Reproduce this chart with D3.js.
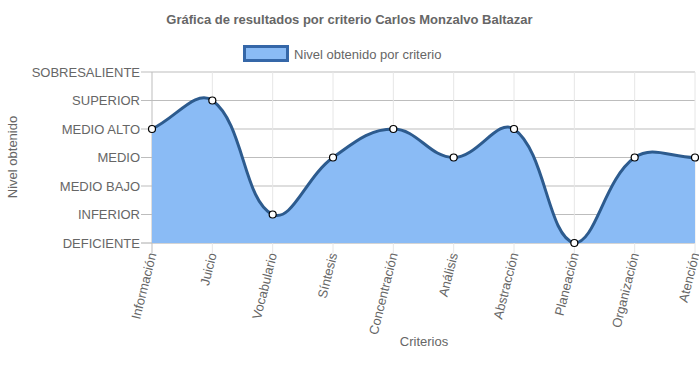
<!DOCTYPE html>
<html><head><meta charset="utf-8">
<script src="https://cdn.jsdelivr.net/npm/d3@7"></script>
<style>body{margin:0;background:#fff;} text{font-family:"Liberation Sans",Arial,sans-serif;}</style>
</head><body>
<svg id="c" width="699" height="382"></svg>
<script>
const categories = ["Información","Juicio","Vocabulario","Síntesis","Concentración","Análisis","Abstracción","Planeación","Organización","Atención"];
const levels = ["DEFICIENTE","INFERIOR","MEDIO BAJO","MEDIO","MEDIO ALTO","SUPERIOR","SOBRESALIENTE"];
const values = [4,5,1,3,4,3,4,0,3,3];
const seriesName = "Nivel obtenido por criterio";
const title = "Gráfica de resultados por criterio Carlos Monzalvo Baltazar";
const xTitle = "Criterios";
const yTitle = "Nivel obtenido";

const svg = d3.select("#c");
const L = 152, R = 695, T = 72, B = 243;
const x = d3.scalePoint().domain(categories).range([L, R]);
const y = d3.scaleLinear().domain([0, levels.length - 1]).range([B, T]);
const txt = "#666";

// gridlines
const g = svg.append("g");
g.selectAll("line.h").data(d3.range(levels.length)).join("line")
  .attr("x1", L - 11).attr("x2", R).attr("y1", d => y(d)).attr("y2", d => y(d))
  .attr("stroke", d => d === 0 ? "#aaa" : "#bdbdbd").attr("stroke-width", 1);
g.selectAll("line.v").data(categories).join("line")
  .attr("x1", d => x(d)).attr("x2", d => x(d)).attr("y1", T).attr("y2", B + 10)
  .attr("stroke", (d, i) => i === 0 ? "#bdbdbd" : "#e6e6e6").attr("stroke-width", 1);

// y labels
svg.append("g").selectAll("text").data(levels).join("text")
  .attr("x", L - 12).attr("y", (d, i) => y(i)).attr("dy", "0.35em")
  .attr("text-anchor", "end").attr("font-size", 13).attr("fill", txt).text(d => d);

// x labels
svg.append("g").selectAll("text").data(categories).join("text")
  .attr("transform", d => `translate(${x(d)},${B + 10}) rotate(-76)`)
  .attr("dy", "0.35em").attr("text-anchor", "end").attr("font-size", 13).attr("fill", txt).text(d => d);

// Chart.js-style spline
const pts = values.map((v, i) => [x(categories[i]), y(v)]);
function splinePath(p, t) {
  const cps = p.map((cur, i) => {
    const prev = p[i - 1] || cur, next = p[i + 1] || cur;
    const d01 = Math.hypot(cur[0] - prev[0], cur[1] - prev[1]);
    const d12 = Math.hypot(next[0] - cur[0], next[1] - cur[1]);
    let s01 = d01 / (d01 + d12), s12 = d12 / (d01 + d12);
    if (isNaN(s01)) s01 = 0; if (isNaN(s12)) s12 = 0;
    const fa = t * s01, fb = t * s12;
    const clampX = v => Math.max(L, Math.min(R, v)), clampY = v => Math.max(T, Math.min(B, v));
    return {
      p: [clampX(cur[0] - fa * (next[0] - prev[0])), clampY(cur[1] - fa * (next[1] - prev[1]))],
      n: [clampX(cur[0] + fb * (next[0] - prev[0])), clampY(cur[1] + fb * (next[1] - prev[1]))]
    };
  });
  const path = d3.path();
  path.moveTo(p[0][0], p[0][1]);
  for (let i = 1; i < p.length; i++) {
    path.bezierCurveTo(cps[i - 1].n[0], cps[i - 1].n[1], cps[i].p[0], cps[i].p[1], p[i][0], p[i][1]);
  }
  return path.toString();
}
const line = splinePath(pts, 0.4);
svg.append("path").attr("d", line + `L${R},${B}L${L},${B}Z`).attr("fill", "#8abbf5").attr("stroke", "none");
svg.append("path").attr("d", line).attr("fill", "none").attr("stroke", "#2d5b8e").attr("stroke-width", 3);
svg.append("g").selectAll("circle").data(pts).join("circle")
  .attr("cx", d => d[0]).attr("cy", d => d[1]).attr("r", 3.5)
  .attr("fill", "#fff").attr("stroke", "#000").attr("stroke-width", 1.2);

// title
svg.append("text").attr("x", 349.5).attr("y", 19).attr("dy", "0.35em").attr("text-anchor", "middle")
  .attr("font-size", 13).attr("font-weight", "bold").attr("fill", txt).text(title);
// legend
svg.append("rect").attr("x", 244.5).attr("y", 46.5).attr("width", 43).attr("height", 14)
  .attr("fill", "#8abbf5").attr("stroke", "#3567a8").attr("stroke-width", 3);
svg.append("text").attr("x", 294).attr("y", 54).attr("dy", "0.35em").attr("font-size", 13).attr("fill", txt).text(seriesName);
// axis titles
svg.append("text").attr("x", 424).attr("y", 341).attr("dy", "0.35em").attr("text-anchor", "middle")
  .attr("font-size", 13).attr("fill", txt).text(xTitle);
svg.append("text").attr("transform", `translate(12,157) rotate(-90)`).attr("dy", "0.35em").attr("text-anchor", "middle")
  .attr("font-size", 13).attr("fill", txt).text(yTitle);
</script>
</body></html>
